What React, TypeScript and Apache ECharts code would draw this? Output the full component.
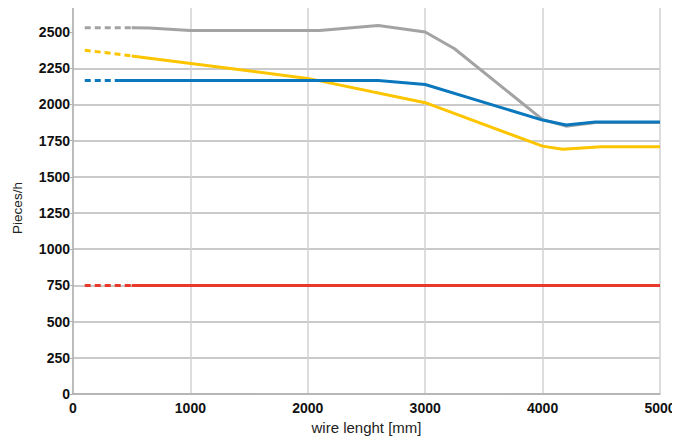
import React, { useEffect, useRef } from "react";
import * as echarts from "echarts";

const yTicks = [0, 250, 500, 750, 1000, 1250, 1500, 1750, 2000, 2250, 2500];
const xTicks = [0, 1000, 2000, 3000, 4000, 5000];

// Gray series
const grayDashed: [number, number][] = [[100, 2530], [500, 2530]];
const graySolid: [number, number][] = [
  [500, 2530], [650, 2528], [1000, 2510], [2100, 2510], [2600, 2545],
  [3000, 2500], [3250, 2385], [4000, 1895], [4200, 1850], [4450, 1875], [5000, 1875],
];
// Blue series
const blueDashed: [number, number][] = [[100, 2165], [400, 2165]];
const blueSolid: [number, number][] = [
  [400, 2165], [2600, 2165], [3000, 2138], [4000, 1892], [4200, 1858], [4450, 1878], [5000, 1878],
];
// Yellow series
const yellowDashed: [number, number][] = [[100, 2375], [500, 2335]];
const yellowSolid: [number, number][] = [
  [500, 2335], [2000, 2180], [3000, 2012], [4000, 1712], [4170, 1690], [4500, 1708], [5000, 1708],
];
// Red series
const redDashed: [number, number][] = [[100, 750], [500, 750]];
const redSolid: [number, number][] = [[500, 750], [5000, 750]];

const GRAY = "#a3a3a3";
const BLUE = "#0b77bd";
const YELLOW = "#fcc500";
const RED = "#e8392a";

function lineSeries(data: [number, number][], color: string, dashed: boolean) {
  return {
    type: "line",
    data,
    symbol: "none",
    silent: true,
    lineStyle: dashed
      ? { color, width: 3, type: [6, 4] }
      : { color, width: 3, type: "solid" },
    z: 3,
  };
}

export default function App() {
  const ref = useRef<HTMLDivElement>(null);
  useEffect(() => {
    if (!ref.current) return;
    const chart = echarts.init(ref.current, null, { renderer: "svg" });
    const font = "'Liberation Sans', Arial, Helvetica, sans-serif";
    chart.setOption({
      animation: false,
      textStyle: { fontFamily: font },
      grid: { left: 73, right: 20, top: 6, bottom: 51, containLabel: false },
      graphic: [
        {
          type: "text",
          x: 17,
          y: 208,
          rotation: Math.PI / 2,
          style: {
            text: "Pieces/h",
            fill: "#222",
            font: "13.5px 'Liberation Sans', Arial, sans-serif",
            align: "center",
            verticalAlign: "middle",
          },
        },
      ],
      xAxis: {
        type: "value",
        min: 0,
        max: 5000,
        interval: 1000,
        name: "wire lenght [mm]",
        nameLocation: "middle",
        nameGap: 19,
        nameTextStyle: { color: "#222", fontSize: 15, fontFamily: font },
        axisLine: { show: true, lineStyle: { color: "#b0b0b0", width: 1.5 } },
        axisTick: { show: false },
        axisLabel: {
          color: "#111",
          fontSize: 14,
          fontWeight: "bold",
          fontFamily: font,
          margin: 7,
          customValues: xTicks,
          formatter: (v: number) => String(v),
        },
        splitLine: { show: true, lineStyle: { color: "#d2d2d2", width: 1.5 } },
      },
      yAxis: {
        type: "value",
        min: 0,
        max: 2680,
        interval: 250,
        axisLine: { show: true, lineStyle: { color: "#b0b0b0", width: 1.5 } },
        axisTick: { show: true, length: 3, lineStyle: { color: "#b0b0b0" }, customValues: yTicks },
        axisLabel: {
          color: "#111",
          fontSize: 14,
          fontWeight: "bold",
          fontFamily: font,
          margin: 3,
          customValues: yTicks,
          formatter: (v: number) => String(v),
        },
        splitLine: { show: true, showMaxLine: false, lineStyle: { color: "#b8b8b8", width: 1.5 } },
      },
      series: [
        lineSeries(grayDashed, GRAY, true),
        lineSeries(graySolid, GRAY, false),
        lineSeries(yellowDashed, YELLOW, true),
        lineSeries(yellowSolid, YELLOW, false),
        lineSeries(blueDashed, BLUE, true),
        lineSeries(blueSolid, BLUE, false),
        lineSeries(redDashed, RED, true),
        lineSeries(redSolid, RED, false),
      ],
    });
    return () => chart.dispose();
  }, []);
  return <div ref={ref} style={{ width: 680, height: 445, margin: -8 }} />;
}
